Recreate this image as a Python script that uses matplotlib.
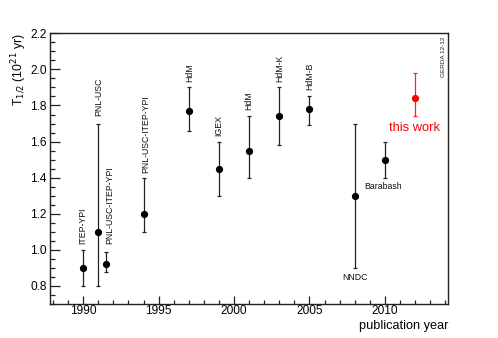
import matplotlib
matplotlib.use("Agg")
import matplotlib.pyplot as plt
from matplotlib.ticker import MultipleLocator

plt.rcParams['font.family'] = ['Liberation Sans', 'DejaVu Sans']

# data
labels = ["ITEP-YPI", "PNL-USC", "PNL-USC-ITEP-YPI", "PNL-USC-ITEP-YPI", "HdM", "IGEX",
          "HdM", "HdM-K", "HdM-B", "NNDC", "Barabash"]
years = [1990, 1991, 1991.5, 1994, 1997, 1999, 2001, 2003, 2005, 2008, 2010]
t_half = [0.90, 1.10, 0.92, 1.20, 1.77, 1.45, 1.55, 1.74, 1.78, 1.30, 1.50]
err_lo = [0.10, 0.30, 0.04, 0.10, 0.11, 0.15, 0.15, 0.16, 0.09, 0.40, 0.10]
err_hi = [0.10, 0.60, 0.07, 0.20, 0.13, 0.15, 0.19, 0.16, 0.07, 0.40, 0.10]

this_year = [2012]
this_val = [1.84]
this_lo = [0.10]
this_hi = [0.14]

# label placement (x, y, rotation, ha, va)
label_pos = [(1990.0, 1.03, 90, 'center', 'bottom'),
             (1991.0, 1.74, 90, 'center', 'bottom'),
             (1991.75, 1.03, 90, 'center', 'bottom'),
             (1994.15, 1.425, 90, 'center', 'bottom'),
             (1997.05, 1.93, 90, 'center', 'bottom'),
             (1999.0, 1.63, 90, 'center', 'bottom'),
             (2000.95, 1.775, 90, 'center', 'bottom'),
             (2003.0, 1.93, 90, 'center', 'bottom'),
             (2005.0, 1.886, 90, 'center', 'bottom'),
             (2008.0, 0.847, 0, 'center', 'center'),
             (2008.65, 1.351, 0, 'left', 'center')]

fig = plt.figure(figsize=(4.98, 3.38), dpi=100)
ax = fig.add_axes([0.1004, 0.1006, 0.7998, 0.8009])

ax.errorbar(years, t_half, yerr=[err_lo, err_hi], fmt='o', color='black',
            ecolor='#222222', elinewidth=0.9, capsize=1.6, capthick=0.9, markersize=4.2)
ax.errorbar(this_year, this_val, yerr=[this_lo, this_hi], fmt='o', color='#ff0000',
            ecolor='#ff2020', elinewidth=0.9, capsize=1.6, capthick=0.9, markersize=4.2)

for lab, (x, y, rot, ha, va) in zip(labels, label_pos):
    ax.text(x, y, lab, rotation=rot, ha=ha, va=va, fontsize=6.3, color='#111111')

ax.text(2011.97, 1.674, "this work", ha='center', va='center', fontsize=9.3, color='#ff0000')
ax.text(0.988, 0.988, "GERDA 12-12", transform=ax.transAxes, rotation=90,
        ha='center', va='top', fontsize=4.6, color='#222222')

ax.set_xlim(1987.8, 2014.2)
ax.set_ylim(0.7, 2.2)
ax.xaxis.set_major_locator(MultipleLocator(5))
ax.xaxis.set_minor_locator(MultipleLocator(1))
ax.yaxis.set_major_locator(MultipleLocator(0.2))
ax.yaxis.set_minor_locator(MultipleLocator(0.05))
ax.yaxis.set_major_formatter(plt.FormatStrFormatter('%.1f'))
ax.tick_params(which='both', direction='in', top=False, right=False, labelsize=8.6,
               color='#222222')
ax.tick_params(axis='y', which='major', length=7, width=0.9, pad=2.5)
ax.tick_params(axis='y', which='minor', length=3.6, width=0.9)
ax.tick_params(axis='x', which='major', length=5.8, width=0.9, pad=0.5)
ax.tick_params(axis='x', which='minor', length=3.0, width=0.9)
for s in ax.spines.values():
    s.set_linewidth(1.0)
    s.set_color('#222222')

fig.text(0.040, 0.9015, r"T$_{1/2}$ (10$^{21}$ yr)", rotation=90, ha='center', va='top',
         fontsize=8.8)
fig.text(0.9002, 0.018, "publication year", ha='right', va='bottom', fontsize=9.2)

fig.savefig("out.png", dpi=100)
